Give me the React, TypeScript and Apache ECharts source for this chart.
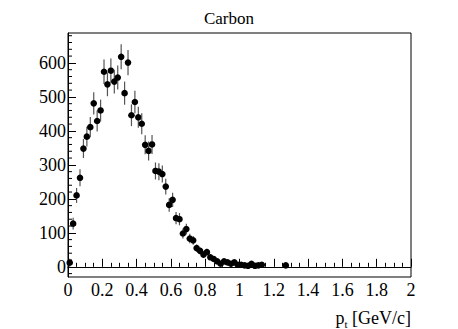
import React, { useEffect, useRef } from "react";
import * as echarts from "echarts";

const ptBins = [
  0.01, 0.03, 0.05, 0.07, 0.09, 0.11, 0.13, 0.15, 0.17, 0.19,
  0.21, 0.23, 0.25, 0.27, 0.29, 0.31, 0.33, 0.35, 0.37, 0.39,
  0.41, 0.43, 0.45, 0.47, 0.49, 0.51, 0.53, 0.55, 0.57, 0.59,
  0.61, 0.63, 0.65, 0.67, 0.69, 0.71, 0.73, 0.75, 0.77, 0.79,
  0.81, 0.83, 0.85, 0.87, 0.89, 0.91, 0.93, 0.95, 0.97, 0.99,
  1.01, 1.03, 1.05, 1.07, 1.09, 1.11, 1.13, 1.27,
];
const counts = [
  12, 127, 210, 262, 348, 383, 411, 481, 429, 460,
  574, 537, 577, 545, 557, 618, 511, 601, 446, 485,
  440, 421, 359, 341, 360, 282, 280, 273, 236, 182,
  197, 143, 140, 98, 111, 83, 78, 55, 47, 36,
  43, 28, 23, 16, 9, 16, 13, 9, 13, 6,
  6, 4, 3, 9, 3, 4, 6, 4,
];
const errors = [
  12, 17, 22, 25, 28, 29, 30, 33, 31, 32,
  36, 35, 36, 35, 35, 37, 34, 37, 32, 33,
  31, 31, 28, 28, 28, 25, 25, 25, 23, 20,
  21, 18, 18, 15, 16, 14, 13, 11, 10, 9,
  10, 8, 7, 6, 5, 6, 5, 5, 5, 4,
  4, 3, 3, 5, 3, 3, 4, 3,
];
const yTickLabels = [0, 100, 200, 300, 400, 500, 600];
const titleText = "Carbon";

export default function App() {
  const ref = useRef<HTMLDivElement>(null);
  useEffect(() => {
    const chart = echarts.init(ref.current!, null, { renderer: "svg" });
    const font = "Liberation Serif, Times New Roman, serif";
    const points = ptBins.map((x, i) => [x, counts[i], errors[i]]);
    const yMinor: number[][] = [];
    for (let v = -20; v <= 680; v += 20) {
      if (v % 100 !== 0) yMinor.push([0, v]);
    }
    chart.setOption({
      animation: false,
      textStyle: { fontFamily: font },
      title: {
        text: titleText,
        left: "center",
        top: 5,
        textStyle: { fontFamily: font, fontSize: 17, fontWeight: "normal", color: "#000" },
      },
      grid: {
        left: 68,
        right: 47,
        top: 33,
        bottom: 52,
        show: true,
        borderColor: "#000",
        borderWidth: 1,
        backgroundColor: "transparent",
      },
      xAxis: {
        type: "value",
        min: 0,
        max: 2,
        interval: 0.2,
        axisLine: { show: true, lineStyle: { color: "#000", width: 1 } },
        axisTick: { show: true, inside: true, length: 8, lineStyle: { color: "#000", width: 1 } },
        minorTick: { show: true, splitNumber: 4, length: 4, lineStyle: { color: "#000", width: 1 } },
        splitLine: { show: false },
        axisLabel: { color: "#000", fontFamily: font, fontSize: 18, margin: 4 },
      },
      yAxis: {
        type: "value",
        min: -30,
        max: 688,
        axisLine: { show: true, lineStyle: { color: "#000", width: 1 } },
        axisTick: {
          show: true,
          inside: true,
          length: 8,
          customValues: yTickLabels,
          lineStyle: { color: "#000", width: 1 },
        },
        splitLine: { show: false },
        axisLabel: {
          color: "#000",
          fontFamily: font,
          fontSize: 18,
          margin: 2,
          customValues: yTickLabels,
        },
      },
      graphic: [
        {
          type: "text",
          x: 411,
          y: 318,
          style: {
            text: "{m|p}{s|t}{m| [GeV/c]}",
            textAlign: "right",
            textVerticalAlign: "middle",
            rich: {
              m: { fontFamily: font, fontSize: 18, fill: "#000", color: "#000" },
              s: { fontFamily: font, fontSize: 11, fill: "#000", color: "#000", padding: [12, 0, 0, 0] },
            },
          },
        },
      ],
      series: [
        {
          type: "custom",
          silent: true,
          clip: false,
          data: yMinor,
          encode: { x: 0, y: 1 },
          renderItem: (params: any, api: any) => {
            const p = api.coord([0, api.value(1)]);
            return {
              type: "line",
              shape: { x1: p[0], y1: p[1], x2: p[0] + 4, y2: p[1] },
              style: { stroke: "#000", lineWidth: 1 },
            };
          },
        },
        {
          type: "custom",
          data: points,
          encode: { x: 0, y: 1 },
          renderItem: (params: any, api: any) => {
            const x = api.value(0);
            const y = api.value(1);
            const e = api.value(2);
            const c = api.coord([x, y]);
            const top = api.coord([x, y + e]);
            const bot = api.coord([x, y - e]);
            return {
              type: "group",
              children: [
                {
                  type: "line",
                  shape: { x1: c[0], y1: top[1], x2: c[0], y2: bot[1] },
                  style: { stroke: "#555", lineWidth: 1.2 },
                },
                {
                  type: "circle",
                  shape: { cx: c[0], cy: c[1], r: 3.3 },
                  style: { fill: "#000" },
                },
              ],
            };
          },
        },
      ],
    });
    return () => chart.dispose();
  }, []);
  return (
    <div
      ref={ref}
      style={{ position: "fixed", left: 0, top: 0, width: 458, height: 329, background: "#fff" }}
    />
  );
}
